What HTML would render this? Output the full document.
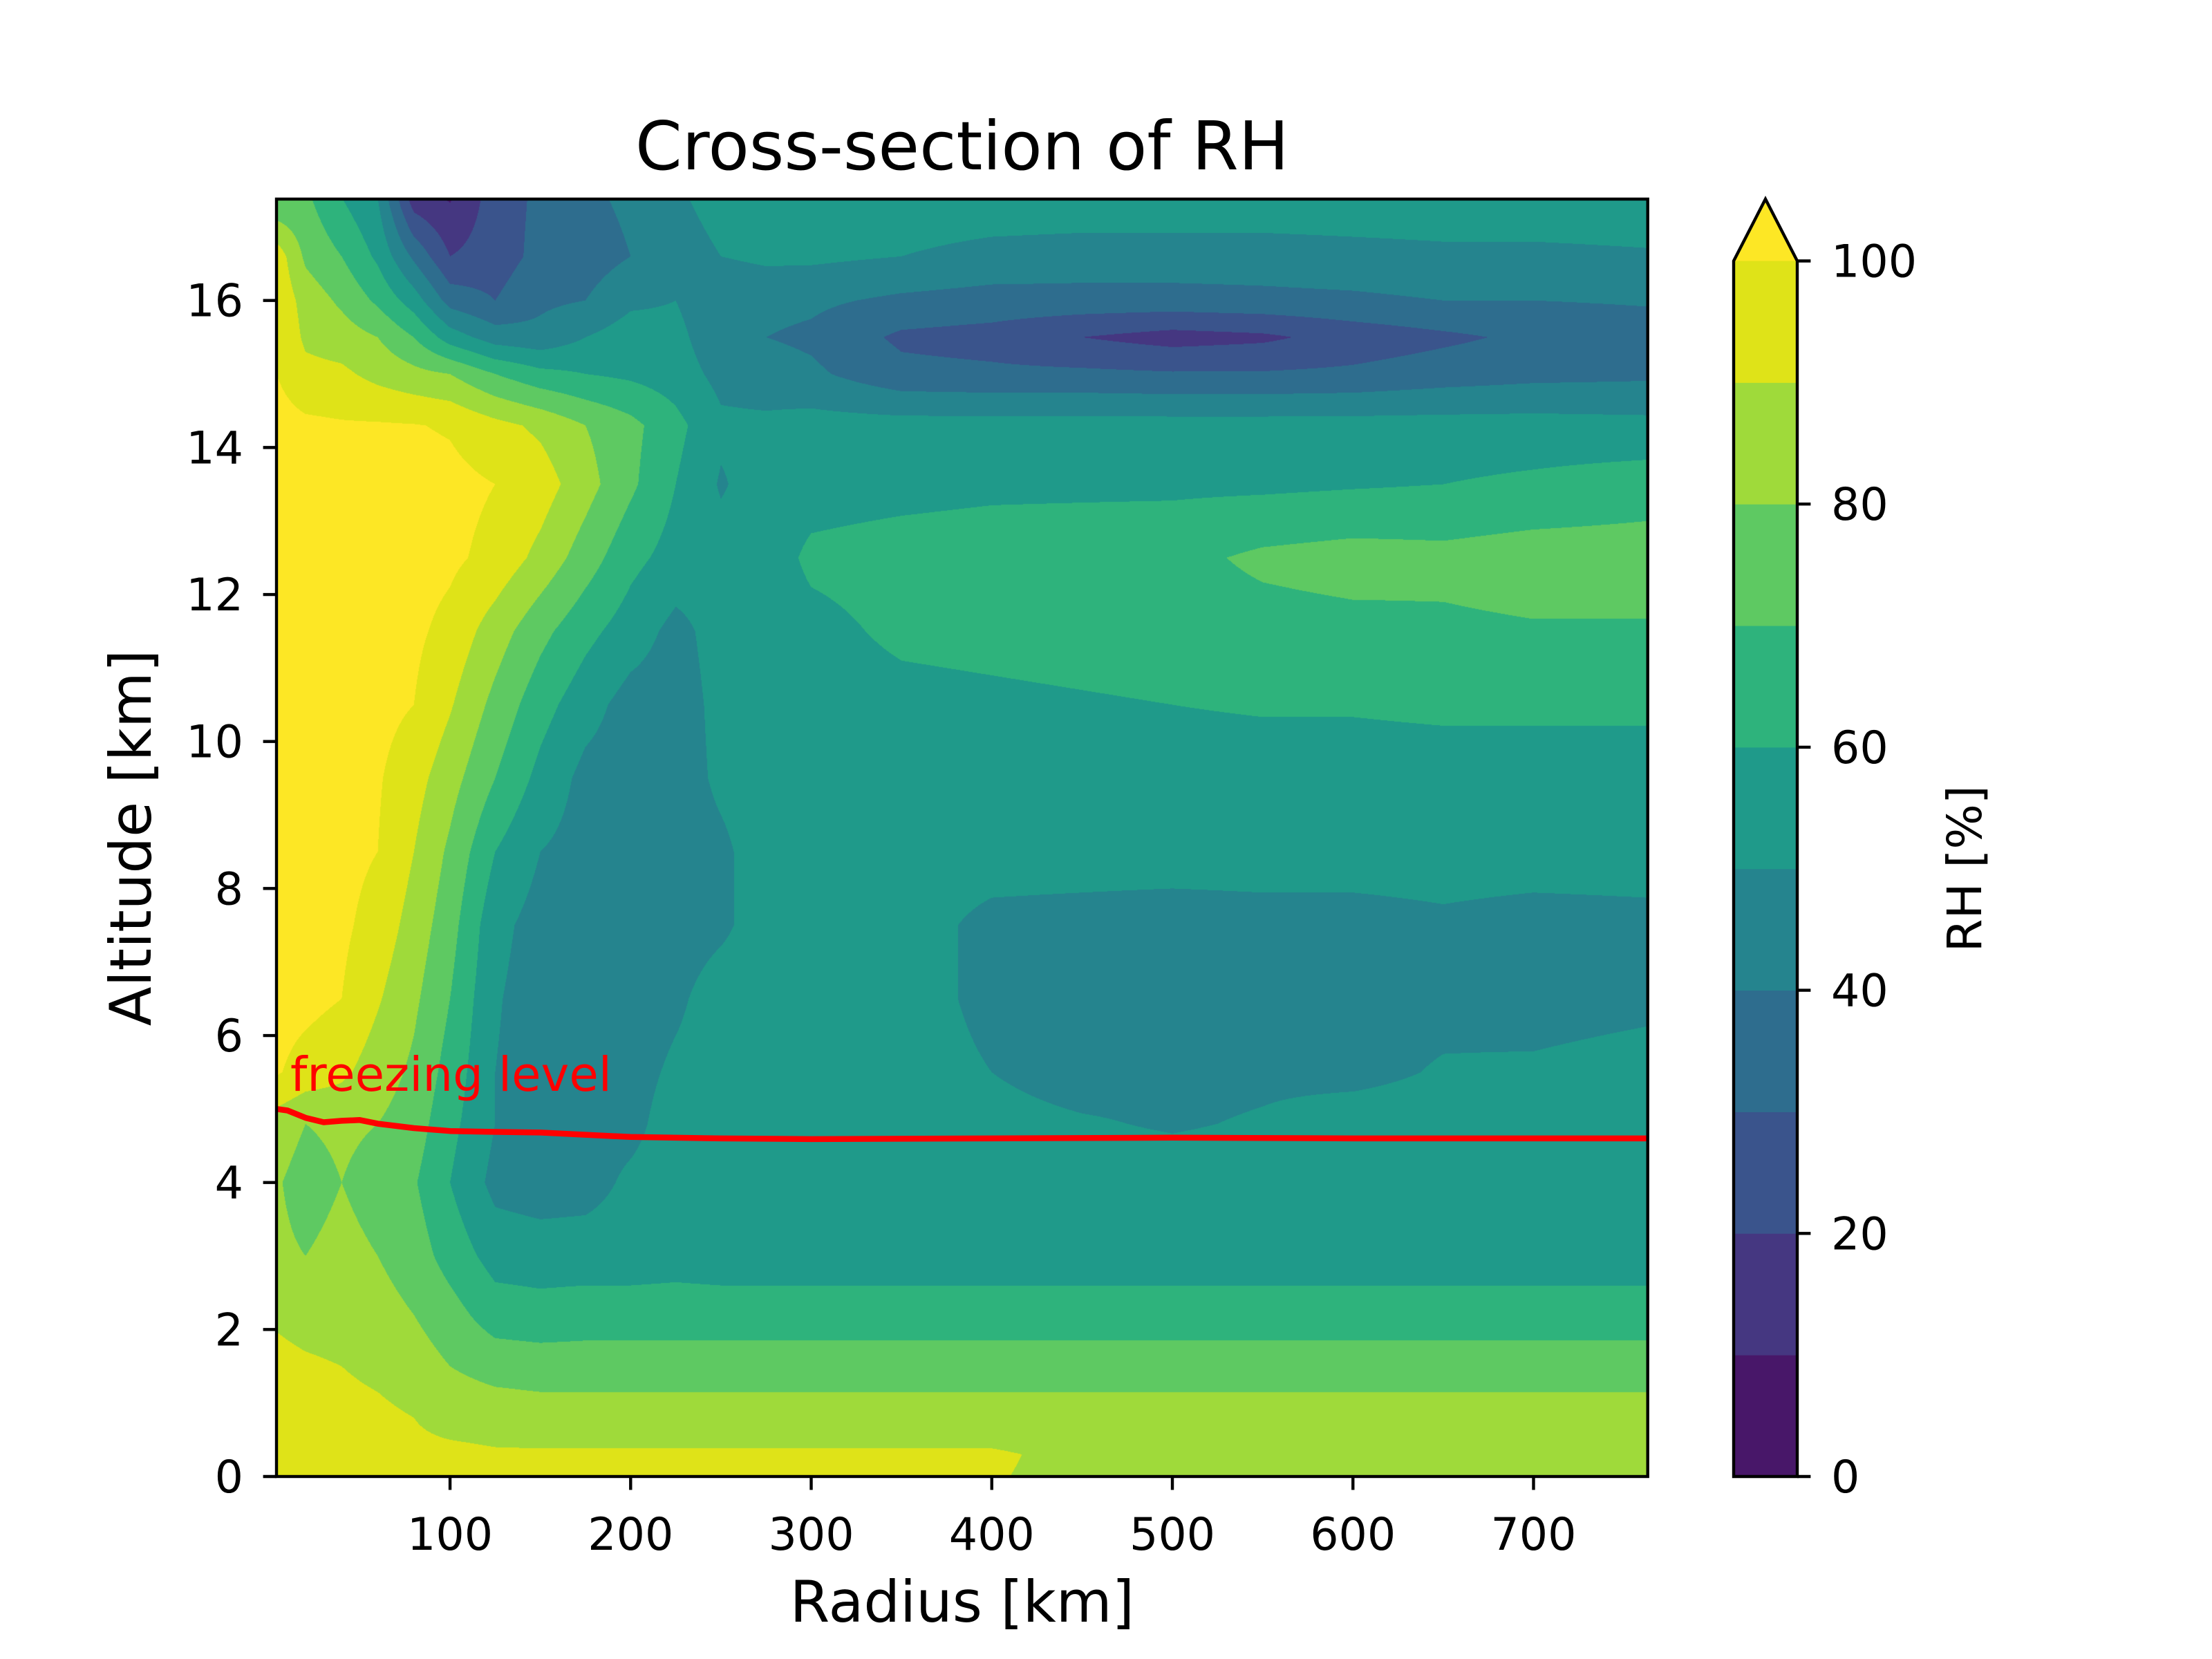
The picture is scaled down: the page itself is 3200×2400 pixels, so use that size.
<!DOCTYPE html>
<html><head><meta charset="utf-8"><style>
body{margin:0;background:#fff;}
#wrap{position:relative;width:3200px;height:2400px;overflow:hidden;background:#fff;font-family:"DejaVu Sans","Liberation Sans",sans-serif;}
canvas{position:absolute;left:0;top:0;}
svg{position:absolute;left:0;top:0;font-family:"DejaVu Sans","Liberation Sans",sans-serif;}
</style></head><body>
<div id="wrap">
<canvas id="cv" width="3200" height="2400"></canvas>
<svg id="sv" width="3200" height="2400" xmlns="http://www.w3.org/2000/svg"></svg>
</div>
<script>
// ---- data ----
const radii = [4,20,40,60,80,100,125,150,175,200,225,250,275,300,350,400,450,500,550,600,650,700,763];
const altitudes = [0,0.3,0.8,1.5,2.2,3,4,4.8,5.5,6.5,7.5,8.5,9.5,10.5,11.5,12.5,13.5,14.3,15,15.5,16,16.6,17.4];
const rh_z00 = [95,95,94,93,93,93,93,93,92,92,92,92,92,91,91,90.5,88,86,86,86,86,86,86];
const rh_z01 = [95,95,94,93,92,92,91,91,91,91,91,91,91,91,91,91,88,86,86,86,86,86,86];
const rh_z02 = [95,94,93,92,90,87,86,85,85,85,85,85,85,85,85,85,85,85,85,85,85,85,85];
const rh_z03 = [94,92,90,88,85,80,76,75,75,75,75,75,75,75,75,75,75,75,75,75,75,75,75];
const rh_z04 = [88,85,84,84,80,74,65,64,65,65,65,65,65,65,65,65,65,65,65,65,65,65,65];
const rh_z05 = [82,80,83,80,75,66,56,55,55,55,56,55,55,55,55,55,55,55,55,55,55,55,55];
const rh_z06 = [81,76,80,76,71,60,47,45,46,52,55,55,55,55,55,55,55,55,55,55,55,55,55];
const rh_z07 = [85,80,82,80,75,63,50,46,46,47,55,55,55,55,55,53,51,49,51,55,55,55,55];
const rh_z08 = [101,96,92,85,78,66,50,45,45,46,52,55,55,55,55,50,46,47,48,47,51,52,55];
const rh_z09 = [104,103,100,91,82,70,51,45,44,44,48,55,55,55,55,47,45,45,46,46,47,45,47];
const rh_z10 = [105,104,102,96,86,74,53,46,44,44,45,48,55,55,55,47,46,45,46,46,48,46,47];
const rh_z11 = [106,105,103,100,90,78,60,50,46,45,45,48,55,55,55,55,55,55,55,55,55,55,55];
const rh_z12 = [106,105,104,101,94,84,70,57,47,45,45,52,55,55,55,55,55,55,55,55,55,55,55];
const rh_z13 = [106,106,105,103,100,91,77,64,54,46,45,53,55,55,57,58,59,60,61,61,62,62,62];
const rh_z14 = [106,106,105,104,102,97,85,73,63,55,47,54,55,57,62,63,64,65,66,67,68,69,69];
const rh_z15 = [106,106,106,105,104,102,97,87,75,63,56,54,55,62,64,65,66,67,72,74,73,75,75];
const rh_z16 = [106,105,105,104,104,103,100,95,84,72,60,49,55,56,57,58,58,58,58,59,60,62,65];
const rh_z17 = [104,102,101,101,100.5,99,93,88,80,73,63,52,52,54,54,54,54,54,54,54,54,54,53];
const rh_z18 = [100,93,92,87,83,80,70,63,60,58,55,47,45,42,33,32,32,31,31,32,35,37,38];
const rh_z19 = [100,88,85,80,70,55,45,43,50,55,53,43,40,38,28,26,20,16,18,24,28,32,35];
const rh_z20 = [98,86,78,68,55,36,30,38,40,48,50,42,43,42,38,36,36,36,37,38,40,40,41];
const rh_z21 = [96,78,70,58,38,20,25,33,35,40,44,50,52,52,50,47,46,46,46,47,48,48,49];
const rh_z22 = [70,72,60,50,14,9,25,32,38,42,48,55,56,57,56,56,56,56,56,56,56,56,56];
const rhRows = [rh_z00,rh_z01,rh_z02,rh_z03,rh_z04,rh_z05,rh_z06,rh_z07,rh_z08,rh_z09,rh_z10,rh_z11,rh_z12,rh_z13,rh_z14,rh_z15,rh_z16,rh_z17,rh_z18,rh_z19,rh_z20,rh_z21,rh_z22];
const levels = [0,10,20,30,40,50,60,70,80,90,100];
const levelColors = ['#481769','#453781','#3a548c','#2e6d8e','#25848e','#1f9a8a','#2eb37c','#5ec962','#9fda3a','#dfe318','#fde725'];
const freezeR = [4,10,20,30,40,50,60,80,100,120,150,200,250,300,400,500,600,700,763];
const freezeZ = [5.0,4.98,4.88,4.82,4.84,4.85,4.80,4.74,4.70,4.69,4.68,4.62,4.60,4.59,4.60,4.61,4.60,4.60,4.60];
const xTicks = [100,200,300,400,500,600,700];
const yTicks = [0,2,4,6,8,10,12,14,16];
const cbTicks = [0,20,40,60,80,100];

// ---- axes ----
const AX_L=400, AX_R=2383.7, AX_T=288, AX_B=2136;
const KX=2.6124, X0=3.9, KY=106.33;
function xs(r){return AX_L+(r-X0)*KX;}
function ys(z){return AX_B-z*KY;}
const CB_L=2508, CB_R=2600, CB_T=377.5, CB_B=2136, CB_TIP=288;
function cy(v){return CB_B-(v/100)*(CB_B-CB_T);}

function locate(arr,v){let i=0;while(i<arr.length-2&&v>arr[i+1])i++;let f=(v-arr[i])/(arr[i+1]-arr[i]);f=Math.max(0,Math.min(1,f));return [i,f];}
function hexRgb(h){return [parseInt(h.substr(1,2),16),parseInt(h.substr(3,2),16),parseInt(h.substr(5,2),16)];}
const rgbs=levelColors.map(hexRgb);

const cv=document.getElementById('cv');const ctx=cv.getContext('2d');
const x0=Math.round(AX_L), x1=Math.round(AX_R), y0=Math.round(AX_T), y1=Math.round(AX_B);
const W=x1-x0, H=y1-y0;
const img=ctx.createImageData(W,H);
const colLoc=[];for(let i=0;i<W;i++){colLoc.push(locate(radii,X0+(i+0.5)/KX));}
for(let j=0;j<H;j++){
  const z=(AX_B-(y0+j+0.5))/KY; const [yi,yf]=locate(altitudes,z);
  const ra=rhRows[yi], rb=rhRows[yi+1];
  for(let i=0;i<W;i++){
    const [xi,xf]=colLoc[i];
    const a=ra[xi]*(1-xf)+ra[xi+1]*xf, b=rb[xi]*(1-xf)+rb[xi+1]*xf;
    const v=a*(1-yf)+b*yf;
    let k=Math.floor(v/10); if(k<0)k=0; if(k>10)k=10;
    const c=rgbs[k]; const p=(j*W+i)*4;
    img.data[p]=c[0];img.data[p+1]=c[1];img.data[p+2]=c[2];img.data[p+3]=255;
  }
}
ctx.putImageData(img,x0,y0);

const NS='http://www.w3.org/2000/svg';const sv=document.getElementById('sv');
function el(tag,attrs,parent){const e=document.createElementNS(NS,tag);for(const k in attrs)e.setAttribute(k,attrs[k]);(parent||sv).appendChild(e);return e;}

let d='';freezeR.forEach((r,i)=>{d+=(i?'L':'M')+xs(r).toFixed(1)+' '+ys(freezeZ[i]).toFixed(1);});
const fl=el('path',{d:d,fill:'none',stroke:'#ff0000','stroke-width':8.5,'stroke-linejoin':'round'});


const ft=el('text',{x:420,y:1578,fill:'#ff0000','font-size':69});
ft.textContent='freezing level';



const fr=el('rect',{x:AX_L,y:AX_T,width:AX_R-AX_L,height:AX_B-AX_T,fill:'none',stroke:'#000','stroke-width':4.4});



xTicks.forEach(t=>{
  const x=xs(t);
  const tk=el('line',{x1:x,x2:x,y1:AX_B,y2:AX_B+19.4,stroke:'#000','stroke-width':4.4});
  
  
  const tl=el('text',{x:x,y:2242,'text-anchor':'middle','font-size':65});
  tl.textContent=t;
  
  
});
yTicks.forEach(t=>{
  const y=ys(t);
  const tk=el('line',{x1:AX_L-19.4,x2:AX_L,y1:y,y2:y,stroke:'#000','stroke-width':4.4});
  
  
  const tl=el('text',{x:352,y:y+23,'text-anchor':'end','font-size':65});
  tl.textContent=t;
  
  
});

const title=el('text',{x:(AX_L+AX_R)/2,y:245,'text-anchor':'middle','font-size':97});
title.textContent='Cross-section of RH';


const xl=el('text',{x:(AX_L+AX_R)/2,y:2346,'text-anchor':'middle','font-size':83});
xl.textContent='Radius [km]';


const yl=el('text',{x:0,y:0,'text-anchor':'middle','font-size':83,transform:'translate(218,'+((AX_T+AX_B)/2)+') rotate(-90)'});
yl.textContent='Altitude [km]';



for(let k=0;k<10;k++){
  const r=el('rect',{x:CB_L,y:cy(levels[k+1]),width:CB_R-CB_L,height:cy(levels[k])-cy(levels[k+1])+0.5,fill:levelColors[k]});
  
  
}
const tri=el('path',{d:'M'+CB_L+' '+CB_T+' L'+((CB_L+CB_R)/2)+' '+CB_TIP+' L'+CB_R+' '+CB_T+' Z',fill:levelColors[10]});


const cbo=el('path',{d:'M'+CB_L+' '+CB_B+' L'+CB_L+' '+CB_T+' L'+((CB_L+CB_R)/2)+' '+CB_TIP+' L'+CB_R+' '+CB_T+' L'+CB_R+' '+CB_B+' Z',fill:'none',stroke:'#000','stroke-width':4.4});


cbTicks.forEach(t=>{
  const y=cy(t);
  const tk=el('line',{x1:CB_R,x2:CB_R+19.4,y1:y,y2:y,stroke:'#000','stroke-width':4.4});
  
  
  const tl=el('text',{x:2649,y:y+23,'font-size':65});
  tl.textContent=t;
  
  
});
const cl=el('text',{x:0,y:0,'text-anchor':'middle','font-size':69,transform:'translate(2866,'+((CB_T+CB_B)/2)+') rotate(-90)'});
cl.textContent='RH [%]';


</script>
</body></html>
